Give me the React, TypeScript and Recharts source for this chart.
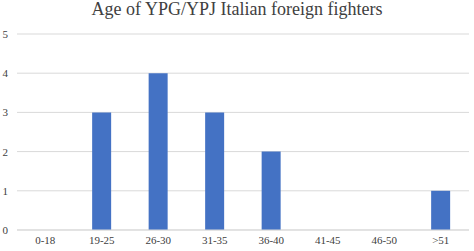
import { BarChart, Bar, XAxis, YAxis, CartesianGrid } from 'recharts';

const ageGroups = ['0-18', '19-25', '26-30', '31-35', '36-40', '41-45', '46-50', '>51'];
const fighterCounts = [0, 3, 4, 3, 2, 0, 0, 1];
const yTicks = [0, 1, 2, 3, 4, 5];

const data = ageGroups.map((name, i) => ({ name, value: fighterCounts[i] }));

const serif = '"Liberation Serif", "Times New Roman", serif';

// plain svg text so the serif font actually sticks
const XTick = (props: any) => {
    const { x, y, payload } = props;
    return (
        <text x={x} y={y + 10} textAnchor="middle" fill="#404040" fontSize={11} fontFamily={serif}>
            {payload.value}
        </text>
    );
};

const YTick = (props: any) => {
    const { x, y, payload } = props;
    return (
        <text x={x} y={y + 4} textAnchor="end" fill="#404040" fontSize={11} fontFamily={serif}>
            {payload.value}
        </text>
    );
};

export default function App() {
    return (
        <div style={{ position: 'absolute', left: 0, top: 0, width: 474, height: 251, background: '#fff', fontFamily: serif }}>
            <div
                style={{
                    position: 'absolute',
                    top: -1,
                    left: 0,
                    width: 474,
                    textAlign: 'center',
                    fontSize: 18,
                    lineHeight: '20px',
                    color: '#404040',
                }}
            >
                Age of YPG/YPJ Italian foreign fighters
            </div>
            <BarChart
                width={474}
                height={251}
                data={data}
                margin={{ top: 34, right: 5, left: 0, bottom: 0 }}
                barCategoryGap="33%"
            >
                <CartesianGrid vertical={false} stroke="#d9d9d9" />
                <XAxis
                    dataKey="name"
                    axisLine={{ stroke: '#d9d9d9' }}
                    tickLine={false}
                    tickSize={0}
                    tickMargin={4}
                    height={21}
                    interval={0}
                    tick={<XTick />}
                />
                <YAxis
                    domain={[0, 5]}
                    ticks={yTicks}
                    axisLine={false}
                    tickLine={false}
                    tickSize={0}
                    tickMargin={9}
                    width={17}
                    tick={<YTick />}
                />
                <Bar dataKey="value" fill="#4472c4" isAnimationActive={false} />
            </BarChart>
        </div>
    );
}
